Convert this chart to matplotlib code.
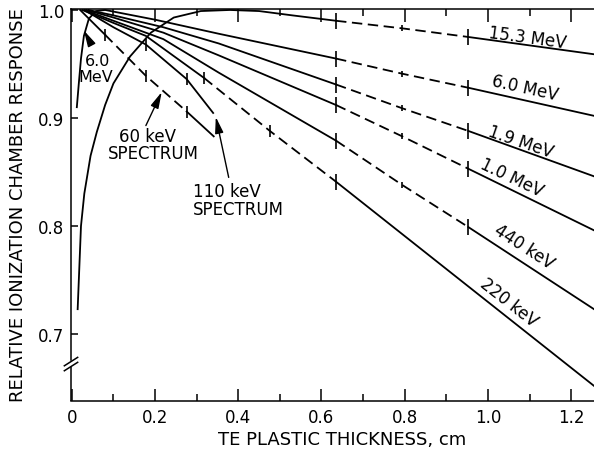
import numpy as np
import matplotlib
matplotlib.use("Agg")
import matplotlib.pyplot as plt

plt.rcParams['font.family'] = ['DejaVu Sans']
plt.rcParams['lines.scale_dashes'] = False

# ---------------- data ----------------
thick_153 = [0.014, 0.022, 0.030, 0.045, 0.060, 0.080, 0.100, 0.140, 0.190, 0.245,
             0.310, 0.380, 0.450, 0.530, 0.635, 0.794, 0.953, 1.255]
resp_153 = [0.723, 0.800, 0.830, 0.865, 0.887, 0.912, 0.932, 0.957, 0.979, 0.993,
            0.999, 1.000, 0.999, 0.995, 0.990, 0.983, 0.975, 0.959]

thick_6m = [0.012, 0.017, 0.022, 0.029, 0.041, 0.058, 0.080, 0.200, 0.353,
            0.635, 0.794, 0.953, 1.255]
resp_6m = [0.910, 0.933, 0.955, 0.976, 0.992, 0.999, 1.000, 0.991, 0.978,
           0.955, 0.941, 0.928, 0.902]

thick_19 = [0.040, 0.100, 0.220, 0.353, 0.635, 0.794, 0.953, 1.255]
resp_19 = [1.000, 0.995, 0.984, 0.969, 0.931, 0.909, 0.888, 0.846]

thick_10 = [0.035, 0.100, 0.220, 0.353, 0.635, 0.794, 0.953, 1.255]
resp_10 = [1.000, 0.993, 0.979, 0.958, 0.912, 0.883, 0.853, 0.796]

thick_440 = [0.030, 0.100, 0.220, 0.353, 0.635, 0.794, 0.953, 1.255]
resp_440 = [1.000, 0.990, 0.973, 0.942, 0.879, 0.838, 0.799, 0.723]

thick_220 = [0.025, 0.100, 0.178, 0.318, 0.476, 0.635, 1.255]
resp_220 = [1.000, 0.988, 0.976, 0.937, 0.888, 0.841, 0.652]

thick_110 = [0.030, 0.100, 0.178, 0.276, 0.341]
resp_110 = [1.000, 0.984, 0.968, 0.936, 0.904]

thick_60k = [0.020, 0.080, 0.178, 0.276, 0.341]
resp_60k = [1.000, 0.977, 0.939, 0.906, 0.883]

# dashed interval and measured-point markers for each curve
dash_mev = (0.635, 0.953)
marks_mev = [0.635, 0.794, 0.953]

x_ticks = [0, 0.2, 0.4, 0.6, 0.8, 1.0, 1.2]
x_tick_labels = ["0", "0.2", "0.4", "0.6", "0.8", "1.0", "1.2"]
x_minor = [0.1, 0.3, 0.5, 0.7, 0.9, 1.1]
y_ticks = [0.7, 0.8, 0.9, 1.0]
y_tick_labels = ["0.7", "0.8", "0.9", "1.0"]

# ---------------- figure ----------------
W, H = 594, 452
fig = plt.figure(figsize=(W / 100, H / 100), dpi=100)
ax = fig.add_axes([71 / W, 1 - 402 / H, 1 - 71 / W, (402 - 10) / H])
XMIN, XMAX = -0.002, 1.255
YMIN, YMAX = 0.638, 1.0009
ax.set_xlim(XMIN, XMAX)
ax.set_ylim(YMIN, YMAX)

LW = 1.3
mark_size = {0.635: 11, 0.794: 5, 0.953: 12}


def draw(x, y, dash=None, marks=()):
    x = np.asarray(x)
    y = np.asarray(y)
    eps = 1e-9
    if dash is None:
        ax.plot(x, y, color='k', lw=LW, solid_capstyle='butt')
    else:
        a, b = dash
        m1 = x <= a + eps
        m2 = (x >= a - eps) & (x <= b + eps)
        m3 = x >= b - eps
        for m, ls in ((m1, '-'), (m3, '-')):
            if m.sum() > 1:
                ax.plot(x[m], y[m], color='k', lw=LW, ls=ls)
        ax.plot(x[m2], y[m2], color='k', lw=LW, ls=(0, (7.5, 4.0)))
    for mx in marks:
        i = int(np.argmin(np.abs(x - mx)))
        ax.plot([x[i]], [y[i]], marker='|', ms=mark_size.get(mx, 9), mew=1.2,
                color='k', clip_on=False)


draw(thick_153, resp_153, dash_mev, marks_mev)
draw(thick_6m, resp_6m, dash_mev, marks_mev)
draw(thick_19, resp_19, dash_mev, marks_mev)
draw(thick_10, resp_10, dash_mev, marks_mev)
draw(thick_440, resp_440, dash_mev, marks_mev)
draw(thick_220, resp_220, (0.318, 0.635), [0.318, 0.476, 0.635])
draw(thick_110, resp_110, None, [0.178, 0.276])
draw(thick_60k, resp_60k, (0.080, 0.276), [0.080, 0.178, 0.276])

# ---------------- axes styling ----------------
ax.spines['right'].set_visible(False)
for s in ('left', 'bottom', 'top'):
    ax.spines[s].set_linewidth(1.1)
ax.spines['left'].set_bounds(0.6755, YMAX)
ax.plot([XMIN, XMIN], [YMIN, 0.6693], color='k', lw=1.1, clip_on=False,
        solid_capstyle='butt')
for yc in (0.6699, 0.6745):
    ax.plot([XMIN - 0.016, XMIN + 0.016], [yc - 0.0039, yc + 0.0039],
            color='k', lw=1.1, clip_on=False)

ax.set_xticks(x_ticks)
ax.set_xticklabels(x_tick_labels)
ax.set_xticks(x_minor, minor=True)
ax.set_yticks(y_ticks)
ax.set_yticklabels(y_tick_labels)
ax.tick_params(axis='x', which='major', direction='in', length=9, width=1.1,
               top=True, labelsize=12, pad=5)
ax.tick_params(axis='x', which='minor', direction='in', length=5, width=1.1,
               top=True)
ax.tick_params(axis='y', which='major', direction='in', length=5, width=1.1,
               right=False, labelsize=12, pad=5)

fig.text(342 / W, 1 - 440 / H, "TE PLASTIC THICKNESS, cm", ha='center',
         va='center', fontsize=13)
fig.text(18 / W, 1 - 205 / H, "RELATIVE IONIZATION CHAMBER RESPONSE",
         rotation=90, ha='center', va='center', fontsize=13)

# ---------------- curve labels ----------------
labels = [("15.3 MeV", 1.095, 0.975, -7.7),
          ("6.0 MeV", 1.089, 0.928, -12.5),
          ("1.9 MeV", 1.079, 0.878, -19),
          ("1.0 MeV", 1.058, 0.845, -25.5),
          ("440 keV", 1.087, 0.781, -33),
          ("220 keV", 1.050, 0.730, -38)]
for t, lx, ly, rot in labels:
    ax.text(lx, ly, t, rotation=rot, ha='center', va='center', fontsize=12,
            rotation_mode='anchor')

ax.text(0.062, 0.953, "6.0", ha='center', va='center', fontsize=11.5)
ax.text(0.058, 0.938, "MeV", ha='center', va='center', fontsize=11.5)
ax.text(0.183, 0.883, "60 keV", ha='center', va='center', fontsize=12)
ax.text(0.197, 0.868, "SPECTRUM", ha='center', va='center', fontsize=12)
ax.text(0.291, 0.832, "110 keV", ha='left', va='center', fontsize=12)
ax.text(0.291, 0.816, "SPECTRUM", ha='left', va='center', fontsize=12)

arrow = dict(arrowstyle='-|>,head_length=0.7,head_width=0.18', lw=1.0,
             color='k', shrinkA=0, shrinkB=0, mutation_scale=14)
ax.annotate('', xy=(0.029, 0.981), xytext=(0.047, 0.968), arrowprops=arrow)
ax.annotate('', xy=(0.216, 0.924), xytext=(0.178, 0.893), arrowprops=arrow)
ax.annotate('', xy=(0.346, 0.901), xytext=(0.377, 0.845), arrowprops=arrow)

fig.savefig("out.png", dpi=100, facecolor='white')
